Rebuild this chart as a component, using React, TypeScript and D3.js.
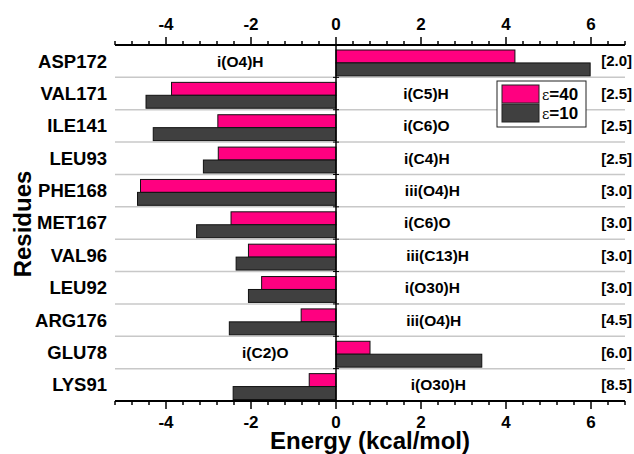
import { useEffect, useRef } from 'react';
import * as d3 from 'd3';

const residues = ['ASP172', 'VAL171', 'ILE141', 'LEU93', 'PHE168', 'MET167', 'VAL96', 'LEU92', 'ARG176', 'GLU78', 'LYS91'];
const eps40 = [4.21, -3.87, -2.78, -2.77, -4.6, -2.47, -2.06, -1.75, -0.82, 0.8, -0.63];
const eps10 = [5.98, -4.47, -4.3, -3.12, -4.67, -3.28, -2.35, -2.06, -2.51, 3.43, -2.42];
const contacts = ['i(O4)H', 'i(C5)H', 'i(C6)O', 'i(C4)H', 'iii(O4)H', 'i(C6)O', 'iii(C13)H', 'i(O30)H', 'iii(O4)H', 'i(C2)O', 'i(O30)H'];
// energy value where each contact label starts
const contactAt = [-2.8, 1.58, 1.58, 1.6, 1.62, 1.6, 1.65, 1.62, 1.65, -2.21, 1.76];
const distances = ['[2.0]', '[2.5]', '[2.5]', '[2.5]', '[3.0]', '[3.0]', '[3.0]', '[3.0]', '[4.5]', '[6.0]', '[8.5]'];
const majorTicks = [-4, -2, 0, 2, 4, 6];
const seriesNames = ['40', '10'];

const PINK = '#ff0080';
const GREY = '#404040';
const FONT = '"Liberation Sans", Arial, sans-serif';

export default function App() {
    const ref = useRef<SVGSVGElement>(null);

    useEffect(() => {
        const svg = d3.select(ref.current);
        svg.selectAll('*').remove();

        const x = d3.scaleLinear().domain([-5.2, 6.8]).range([115, 625]);
        const y = d3.scaleBand().domain(residues).range([45, 401]).padding(0);
        const bw = y.bandwidth();
        const sub = d3.scaleBand().domain(seriesNames).range([5, bw - 1.5]).padding(0);

        // row separators
        svg.append('g')
            .selectAll('line')
            .data(residues.slice(1))
            .enter()
            .append('line')
            .attr('x1', x(-5.2)).attr('x2', x(6.8))
            .attr('y1', d => y(d)!).attr('y2', d => y(d)!)
            .attr('stroke', '#c8c8c8')
            .attr('stroke-width', 1.5);

        const series = [
            { key: '40', values: eps40, color: PINK },
            { key: '10', values: eps10, color: GREY },
        ];
        series.forEach(s => {
            svg.append('g')
                .selectAll('rect')
                .data(residues)
                .enter()
                .append('rect')
                .attr('x', (d, i) => x(Math.min(0, s.values[i])))
                .attr('y', d => y(d)! + sub(s.key)!)
                .attr('width', (d, i) => Math.abs(x(s.values[i]) - x(0)))
                .attr('height', sub.bandwidth())
                .attr('fill', s.color)
                .attr('stroke', '#111')
                .attr('stroke-width', 1);
        });

        // zero line with small ticks
        svg.append('line')
            .attr('x1', x(0)).attr('x2', x(0))
            .attr('y1', 45).attr('y2', 401)
            .attr('stroke', '#000').attr('stroke-width', 1.5);
        svg.append('g')
            .selectAll('line')
            .data(residues.slice(1))
            .enter()
            .append('line')
            .attr('x1', x(0) - 3).attr('x2', x(0) + 3)
            .attr('y1', d => y(d)!).attr('y2', d => y(d)!)
            .attr('stroke', '#000').attr('stroke-width', 1);

        // top and bottom axes
        const minor = d3.range(-5.2, 6.81, 0.4).map(v => +v.toFixed(1));
        const drawAxis = (yPos: number, dir: number, labelY: number) => {
            const g = svg.append('g');
            g.append('line')
                .attr('x1', x(-5.2)).attr('x2', x(6.8))
                .attr('y1', yPos).attr('y2', yPos)
                .attr('stroke', '#000').attr('stroke-width', 2);
            g.selectAll('line.tick')
                .data(minor)
                .enter()
                .append('line')
                .attr('class', 'tick')
                .attr('x1', d => x(d)).attr('x2', d => x(d))
                .attr('y1', yPos)
                .attr('y2', d => yPos + dir * (majorTicks.includes(d) ? 8 : 4))
                .attr('stroke', '#000').attr('stroke-width', 1.5);
            g.selectAll('text')
                .data(majorTicks)
                .enter()
                .append('text')
                .attr('x', d => x(d))
                .attr('y', labelY)
                .attr('text-anchor', 'middle')
                .attr('font-family', FONT)
                .attr('font-weight', 'bold')
                .attr('font-size', 17)
                .text(d => d);
        };
        drawAxis(45, -1, 30);
        drawAxis(401, 1, 428);

        // residue names
        svg.append('g')
            .selectAll('text')
            .data(residues)
            .enter()
            .append('text')
            .attr('x', 107)
            .attr('y', d => y(d)! + bw / 2)
            .attr('dy', '0.35em')
            .attr('text-anchor', 'end')
            .attr('font-family', FONT)
            .attr('font-weight', 'bold')
            .attr('font-size', 18.5)
            .text(d => d);

        // contact type labels
        svg.append('g')
            .selectAll('text')
            .data(residues)
            .enter()
            .append('text')
            .attr('x', (d, i) => x(contactAt[i]))
            .attr('y', d => y(d)! + bw / 2)
            .attr('dy', '0.35em')
            .attr('font-family', FONT)
            .attr('font-weight', 'bold')
            .attr('font-size', 15.5)
            .text((d, i) => contacts[i]);

        // distances
        svg.append('g')
            .selectAll('text')
            .data(residues)
            .enter()
            .append('text')
            .attr('x', 632)
            .attr('y', d => y(d)! + bw / 2)
            .attr('dy', '0.35em')
            .attr('text-anchor', 'end')
            .attr('font-family', FONT)
            .attr('font-weight', 'bold')
            .attr('font-size', 15)
            .text((d, i) => distances[i]);

        // legend
        const legend = svg.append('g');
        legend.append('rect')
            .attr('x', 497).attr('y', 81).attr('width', 89).attr('height', 46)
            .attr('fill', '#fff').attr('stroke', '#222').attr('stroke-width', 1);
        series.forEach((s, i) => {
            legend.append('rect')
                .attr('x', 502).attr('y', 85 + i * 19).attr('width', 37).attr('height', 18)
                .attr('fill', s.color).attr('stroke', '#222').attr('stroke-width', 1);
            const t = legend.append('text')
                .attr('x', 542).attr('y', 100 + i * 19)
                .attr('font-family', FONT)
                .attr('font-size', 17);
            t.append('tspan').attr('font-family', '"DejaVu Serif", serif').attr('font-size', 14).text('ε');
            t.append('tspan').attr('font-weight', 'bold').text('=' + s.key);
        });

        // axis titles
        svg.append('text')
            .attr('transform', 'translate(31, 224) rotate(-90)')
            .attr('text-anchor', 'middle')
            .attr('font-family', FONT)
            .attr('font-weight', 'bold')
            .attr('font-size', 24)
            .text('Residues');
        svg.append('text')
            .attr('x', 370).attr('y', 449)
            .attr('text-anchor', 'middle')
            .attr('font-family', FONT)
            .attr('font-weight', 'bold')
            .attr('font-size', 24)
            .text('Energy (kcal/mol)');
    }, []);

    return (
        <svg ref={ref} width={634} height={454}
            style={{ position: 'absolute', left: 0, top: 0, background: '#fff' }} />
    );
}
